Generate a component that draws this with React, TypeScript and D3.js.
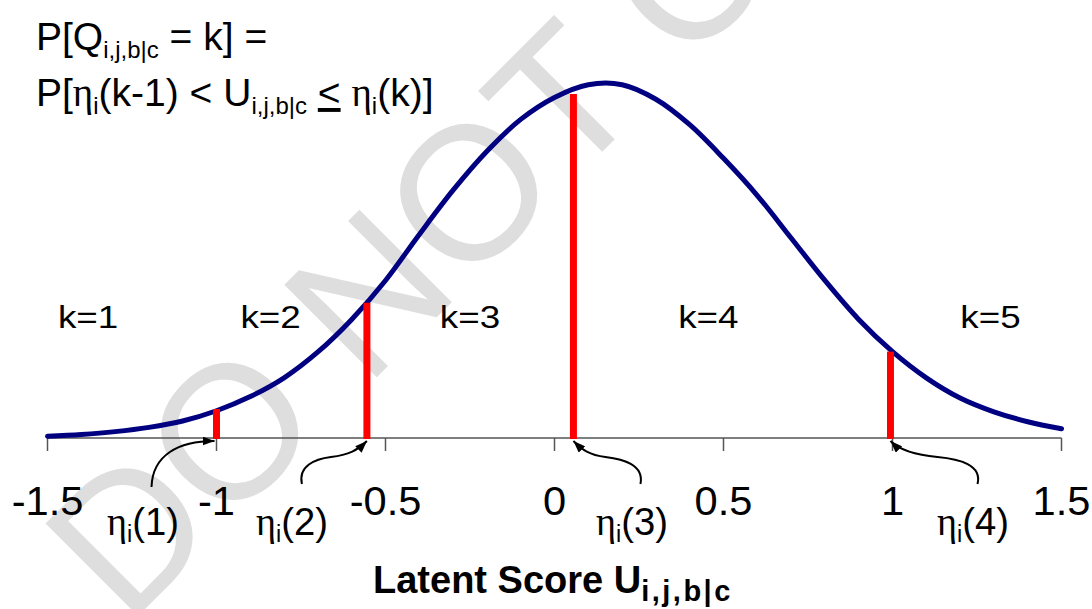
import React from "react";
import * as d3 from "d3";

const W = 1092;
const H = 609;

// ---- data ----
const tickValues = [-1.5, -1, -0.5, 0, 0.5, 1, 1.5];
const tickLabels = ["-1.5", "-1", "-0.5", "0", "0.5", "1", "1.5"];

const curveU = [
  -1.5, -1.4, -1.3, -1.2, -1.1, -1.0, -0.9, -0.8, -0.7, -0.6, -0.5, -0.4, -0.3, -0.2, -0.1,
  0.0, 0.1, 0.2, 0.3, 0.4, 0.5, 0.6, 0.7, 0.8, 0.9, 1.0, 1.1, 1.2, 1.3, 1.4, 1.5,
];
const curveDensity = [
  0.005, 0.01, 0.018, 0.03, 0.048, 0.077, 0.117, 0.17, 0.243, 0.335, 0.445, 0.575, 0.7, 0.81, 0.9,
  0.962, 0.998, 0.998, 0.957, 0.885, 0.79, 0.685, 0.565, 0.445, 0.335, 0.244, 0.17, 0.113, 0.074, 0.046, 0.026,
];

const thresholdNames = ["1", "2", "3", "4"];
const thresholdU = [-1.0, -0.555, 0.056, 0.994];
const thresholdDensity = [0.082, 0.382, 0.972, 0.244];

const categoryLabels = ["k=1", "k=2", "k=3", "k=4", "k=5"];

// ---- layout ----
const labelAnchorU = [-1.38, -0.84, -0.25, 0.455, 1.29];
const labelAnchorDensity = 0.312;
const axisY = 438;
const FONT = "'Liberation Sans', Arial, sans-serif";
const SERIF = "'Liberation Serif', 'Times New Roman', serif";

const x = d3.scaleLinear().domain([-1.5, 1.5]).range([47.5, 1061.5]);
const y = d3.scaleLinear().domain([0, 1]).range([axisY, 84]);

const line = d3
  .line<number>()
  .x((_, i) => x(curveU[i]))
  .y((d) => y(d))
  .curve(d3.curveCatmullRom);

// arrows: offsets relative to the arrow tip (threshold foot)
const arrowShapes = [
  (tx: number, ty: number) => `M${tx - 65},${ty + 46} C${tx - 64},${ty + 14} ${tx - 38},${ty} ${tx - 2},${ty}`,
  (tx: number, ty: number) =>
    `M${tx - 65},${ty + 43} C${tx - 69},${ty + 25} ${tx - 52},${ty + 18} ${tx - 36},${ty + 16} C${tx - 18},${ty + 14} ${tx - 9},${ty + 9} ${tx},${ty}`,
  (tx: number, ty: number) =>
    `M${tx + 67},${ty + 43} C${tx + 71},${ty + 24} ${tx + 50},${ty + 18} ${tx + 32},${ty + 16} C${tx + 16},${ty + 14} ${tx + 9},${ty + 9} ${tx},${ty}`,
  (tx: number, ty: number) =>
    `M${tx + 87},${ty + 43} C${tx + 92},${ty + 24} ${tx + 69},${ty + 18} ${tx + 47},${ty + 16} C${tx + 25},${ty + 14} ${tx + 9},${ty + 9} ${tx},${ty}`,
];
const etaLabelX = [107, 256, 596, 937];

function SText(props: {
  x: number;
  y: number;
  sx?: number;
  anchor?: string;
  size: number;
  weight?: string | number;
  children: React.ReactNode;
}) {
  const { x: px, y: py, sx = 1, anchor = "start", size, weight = "normal", children } = props;
  return (
    <g transform={`translate(${px},${py}) scale(${sx},1)`}>
      <text x={0} y={0} textAnchor={anchor as any} fontSize={size} fontWeight={weight} fontFamily={FONT} fill="#000">
        {children}
      </text>
    </g>
  );
}

export default function App() {
  return (
    <div style={{ position: "absolute", left: 0, top: 0, width: W, height: H, background: "#fff" }}>
      <svg width={W} height={H} viewBox={`0 0 ${W} ${H}`} style={{ display: "block" }}>
        <defs>
          <marker
            id="ah"
            viewBox="0 0 12 9"
            refX={12}
            refY={4.5}
            markerWidth={12}
            markerHeight={9}
            markerUnits="userSpaceOnUse"
            orient="auto"
          >
            <path d="M0,0 L12,4.5 L0,9 z" fill="#000" />
          </marker>
        </defs>
        <rect width={W} height={H} fill="#fff" />

        {/* watermark */}
        <text transform="translate(127,627) rotate(-45)" fontFamily={FONT} fontSize={190} fill="#dedede">
          DO NOT COPY
        </text>

        {/* formula */}
        <SText x={36} y={50} size={39}>
          P[Q<tspan fontSize={24} dy={8}>i,j,b|c</tspan>
          <tspan dy={-8}> = k] =</tspan>
        </SText>
        <SText x={36} y={106} size={39}>
          P[<tspan fontFamily={SERIF}>η</tspan>
          <tspan fontSize={24} dy={8}>i</tspan>
          <tspan dy={-8}>(k-1) &lt; U</tspan>
          <tspan fontSize={24} dy={8}>i,j,b|c</tspan>
          <tspan dy={-8}> </tspan>
          <tspan style={{ textDecoration: "underline" }}>&lt;</tspan>
          <tspan> </tspan>
          <tspan fontFamily={SERIF}>η</tspan>
          <tspan fontSize={24} dy={8}>i</tspan>
          <tspan dy={-8}>(k)]</tspan>
        </SText>

        {/* category labels */}
        {categoryLabels.map((c, i) => (
          <SText key={c} x={x(labelAnchorU[i])} y={y(labelAnchorDensity)} size={32} sx={1.15} anchor="middle">
            {c}
          </SText>
        ))}

        {/* axis */}
        <line x1={x(-1.5)} x2={x(1.5)} y1={axisY} y2={axisY} stroke="#555" strokeWidth={1.5} />
        {tickValues.map((t) => (
          <line key={t} x1={x(t)} x2={x(t)} y1={axisY} y2={axisY + 13} stroke="#555" strokeWidth={1.5} />
        ))}
        {tickValues.map((t, i) => (
          <SText key={"l" + t} x={x(t)} y={515} size={40} sx={1.04} anchor="middle">
            {tickLabels[i]}
          </SText>
        ))}

        {/* density curve */}
        <path
          d={line(curveDensity) || ""}
          fill="none"
          stroke="#000080"
          strokeWidth={5}
          strokeLinejoin="round"
          strokeLinecap="round"
        />

        {/* thresholds */}
        {thresholdU.map((t, i) => (
          <line
            key={"t" + i}
            x1={x(t)}
            x2={x(t)}
            y1={y(0) + 1}
            y2={y(thresholdDensity[i])}
            stroke="#ff0000"
            strokeWidth={7}
          />
        ))}

        {/* arrows */}
        {thresholdU.map((t, i) => (
          <path
            key={"a" + i}
            d={arrowShapes[i](x(t), axisY + 3)}
            fill="none"
            stroke="#000"
            strokeWidth={2}
            markerEnd="url(#ah)"
          />
        ))}

        {/* eta labels */}
        {thresholdNames.map((n, i) => (
          <SText key={"e" + n} x={etaLabelX[i]} y={535} size={39} sx={0.98}>
            <tspan fontFamily={SERIF}>η</tspan>
            <tspan fontSize={24} dy={7}>i</tspan>
            <tspan dy={-7}>({n})</tspan>
          </SText>
        ))}

        {/* axis title */}
        <SText x={373} y={593} size={38} weight="bold">
          Latent Score U
          <tspan fontSize={29} dy={8} letterSpacing={2.5}>
            i,j,b|c
          </tspan>
        </SText>
      </svg>
    </div>
  );
}
